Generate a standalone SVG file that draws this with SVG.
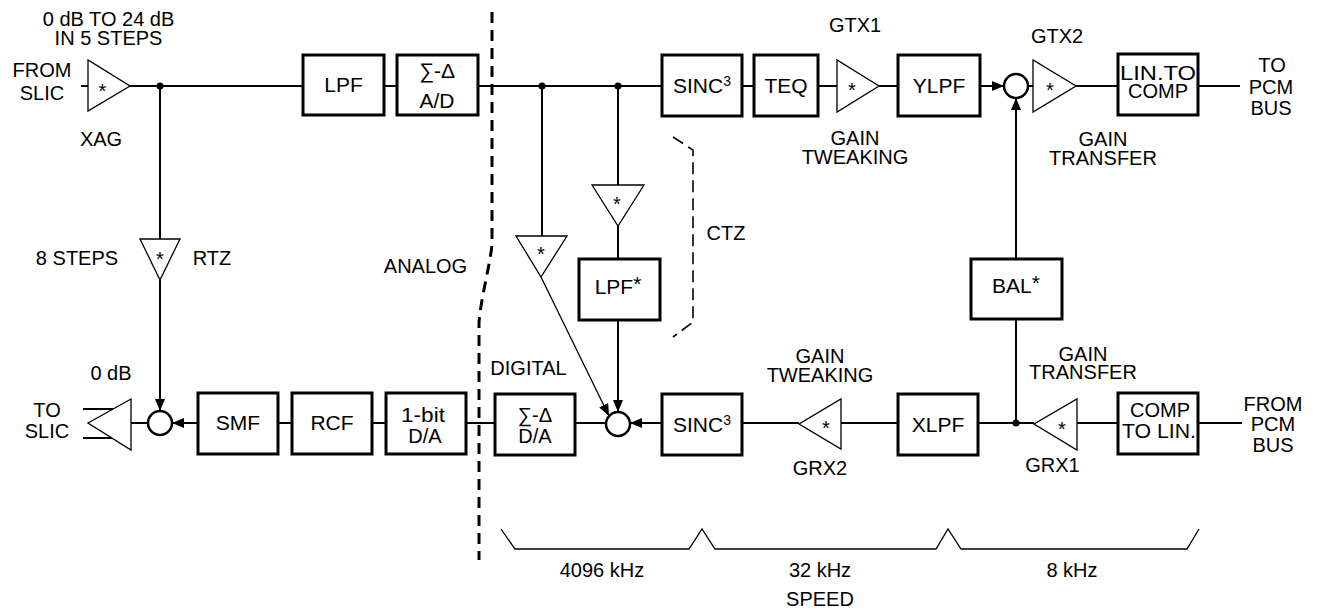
<svg xmlns="http://www.w3.org/2000/svg" width="1318" height="611" viewBox="0 0 1318 611">
<style>
text{font-family:"Liberation Sans",Arial,Helvetica,sans-serif;font-size:20px;fill:#000;text-anchor:middle}
.bt{font-size:21px}
.sm{font-size:20px}
.box{fill:#fff;stroke:#000;stroke-width:3}
.tri{fill:#fff;stroke:#000;stroke-width:1.3}
.sum{fill:#fff;stroke:#000;stroke-width:2.5}
.w{fill:none;stroke:#000;stroke-width:2}
.thin{fill:none;stroke:#000;stroke-width:1.3}
.dash{fill:none;stroke:#000;stroke-width:3;stroke-dasharray:11,7}
.dash2{fill:none;stroke:#000;stroke-width:1.6;stroke-dasharray:12,6}
.arr{marker-end:url(#ah)}
</style>
<defs>
<marker id="ah" markerUnits="userSpaceOnUse" markerWidth="12" markerHeight="10" refX="12" refY="5" orient="auto">
<path d="M0,0 L12,5 L0,10 Z" fill="#000"/>
</marker>
</defs>
<rect width="1318" height="611" fill="#fff"/>

<g id="connectors">
<path class="w" d="M81,86 H88"/>
<path class="w" d="M130,86 H303"/>
<path class="w" d="M384,86 H397"/>
<path class="w" d="M478,86 H662"/>
<path class="w" d="M742,86 H754"/>
<path class="w" d="M818,86 H837"/>
<path class="w" d="M879,86 H898"/>
<path class="w arr" d="M980,86 H1004"/>
<path class="w" d="M1028,86 H1033"/>
<path class="w" d="M1076,86 H1118"/>
<path class="w" d="M1198,86 H1240"/>
<circle cx="160" cy="86" r="3.5" fill="#000"/>
<circle cx="542" cy="86" r="3.5" fill="#000"/>
<circle cx="618" cy="86" r="3.5" fill="#000"/>
<path class="w" d="M160,86 V239"/>
<path class="w arr" d="M160,280 V411"/>
<path class="w" d="M542,86 V236"/>
<path class="thin arr" d="M541,277 L609,416"/>
<path class="w" d="M618,86 V185"/>
<path class="w" d="M618,226 V259"/>
<path class="w arr" d="M618,320 V412"/>
<path class="w" d="M1016,423 V319"/>
<path class="w arr" d="M1016,259 V98"/>
<circle cx="1016" cy="423" r="3.5" fill="#000"/>
<path class="w" d="M1242,423 H1198"/>
<path class="w" d="M1118,423 H1077"/>
<path class="w" d="M1034,423 H978"/>
<path class="w" d="M898,423 H841"/>
<path class="w" d="M799,423 H742"/>
<path class="w arr" d="M662,423 H630"/>
<path class="w" d="M606,423 H575"/>
<path class="w" d="M495,423 H466"/>
<path class="w" d="M386,423 H372"/>
<path class="w" d="M292,423 H278"/>
<path class="w arr" d="M198,423 H172"/>
<path class="w" d="M148,423 H131"/>
<path class="w" d="M83,409 H113"/>
<path class="w" d="M83,438 H113"/>
</g>

<path id="separator" class="dash" d="M492,12 V245 C489,270 481,298 479,322 V560"/>
<path id="ctz-bracket" class="dash2" d="M673,137 L693,150 V322 L673,337"/>
<path id="speed-bracket" class="thin" d="M501,529 L515,549 H689 L702,529 L715,549 H936 L948,529 L961,549 H1187 L1199,529"/>

<g id="xag"><polygon class="tri" points="88,60 88,111 130,86"/><text x="102.5" y="98">*</text></g>
<g id="lpf1"><rect class="box" x="303" y="55" width="81" height="60"/><text class="bt" x="343.5" y="92">LPF</text></g>
<g id="sd-ad"><rect class="box" x="397" y="55" width="81" height="60"/><text class="bt" x="437" y="78">∑-Δ</text><text class="bt" x="437" y="108">A/D</text></g>
<g id="sinc-top"><rect class="box" x="662" y="55" width="80" height="61"/><text class="bt" x="702" y="93">SINC<tspan font-size="14" dy="-7">3</tspan></text></g>
<g id="teq"><rect class="box" x="754" y="55" width="64" height="61"/><text class="bt" x="786" y="93">TEQ</text></g>
<g id="gtx1"><polygon class="tri" points="837,60 837,112 879,86"/><text x="852" y="97">*</text></g>
<g id="ylpf"><rect class="box" x="898" y="55" width="82" height="61"/><text class="bt" x="939" y="93">YLPF</text></g>
<g id="sum-tx"><circle class="sum" cx="1016" cy="86" r="12"/></g>
<g id="gtx2"><polygon class="tri" points="1033,60 1033,112 1076,86"/><text x="1050" y="97">*</text></g>
<g id="lin-comp"><rect class="box" x="1118" y="54" width="80" height="61"/><text x="1158" y="80" textLength="76" lengthAdjust="spacingAndGlyphs">LIN.TO</text><text x="1158" y="98">COMP</text></g>

<g id="rtz"><polygon class="tri" points="140,239 180,239 160,280"/><text x="160" y="266">*</text></g>
<g id="ctz-a"><polygon class="tri" points="516,236 567,236 541,277"/><text x="541" y="261">*</text></g>
<g id="ctz-b"><polygon class="tri" points="592,185 644,185 618,226"/><text x="617" y="211">*</text></g>
<g id="lpf-ctz"><rect class="box" x="579" y="259" width="81" height="61"/><text class="bt" x="618" y="294">LPF<tspan dy="-3">*</tspan></text></g>
<g id="bal"><rect class="box" x="971" y="259" width="91" height="60"/><text class="bt" x="1016" y="293">BAL<tspan dy="-3">*</tspan></text></g>

<g id="to-slic-amp"><polygon class="tri" points="131,399 131,450 88,423"/></g>
<g id="sum-rx"><circle class="sum" cx="160" cy="423" r="12"/></g>
<g id="smf"><rect class="box" x="198" y="393" width="80" height="61"/><text class="bt" x="238" y="430">SMF</text></g>
<g id="rcf"><rect class="box" x="292" y="393" width="80" height="61"/><text class="bt" x="332" y="430">RCF</text></g>
<g id="da1"><rect class="box" x="386" y="393" width="80" height="61"/><text class="sm" x="423" y="422" textLength="44" lengthAdjust="spacingAndGlyphs">1-bit</text><text class="sm" x="425" y="443">D/A</text></g>
<g id="sd-da"><rect class="box" x="495" y="394" width="80" height="61"/><text class="sm" x="535" y="422">∑-Δ</text><text class="sm" x="535" y="443">D/A</text></g>
<g id="sum-mid"><circle class="sum" cx="618" cy="424" r="12"/></g>
<g id="sinc-bot"><rect class="box" x="662" y="394" width="80" height="61"/><text class="bt" x="702" y="432">SINC<tspan font-size="14" dy="-7">3</tspan></text></g>
<g id="grx2"><polygon class="tri" points="841,399 841,449 799,424"/><text x="826" y="435">*</text></g>
<g id="xlpf"><rect class="box" x="898" y="394" width="80" height="61"/><text class="bt" x="938" y="432">XLPF</text></g>
<g id="grx1"><polygon class="tri" points="1077,399 1077,450 1034,424"/><text x="1062" y="436">*</text></g>
<g id="comp-lin"><rect class="box" x="1118" y="393" width="80" height="61"/><text x="1160" y="417">COMP</text><text x="1159" y="438" textLength="74" lengthAdjust="spacingAndGlyphs">TO LIN.</text></g>

<g id="labels">
<text x="108.5" y="26">0 dB TO 24 dB</text>
<text x="108.5" y="45">IN 5 STEPS</text>
<text x="42" y="77">FROM</text>
<text x="42" y="100">SLIC</text>
<text x="101" y="146">XAG</text>
<text x="77" y="265">8 STEPS</text>
<text x="212" y="265">RTZ</text>
<text x="855" y="32">GTX1</text>
<text x="855" y="145">GAIN</text>
<text x="855" y="164">TWEAKING</text>
<text x="1057" y="43">GTX2</text>
<text x="1103" y="146">GAIN</text>
<text x="1103" y="165">TRANSFER</text>
<text x="1272" y="72">TO</text>
<text x="1271" y="94">PCM</text>
<text x="1271" y="115">BUS</text>
<text x="425.5" y="273">ANALOG</text>
<text x="726" y="240">CTZ</text>
<text x="111" y="380">0 dB</text>
<text x="47" y="417">TO</text>
<text x="47" y="438">SLIC</text>
<text x="528.5" y="375">DIGITAL</text>
<text x="820" y="363">GAIN</text>
<text x="820" y="382">TWEAKING</text>
<text x="820" y="475">GRX2</text>
<text x="1083" y="361">GAIN</text>
<text x="1083" y="379">TRANSFER</text>
<text x="1052.5" y="472">GRX1</text>
<text x="1273" y="411">FROM</text>
<text x="1273" y="431">PCM</text>
<text x="1273" y="452">BUS</text>
<text x="602" y="577">4096 kHz</text>
<text x="820" y="577">32 kHz</text>
<text x="1072" y="577">8 kHz</text>
<text x="820" y="606">SPEED</text>
</g>
</svg>
